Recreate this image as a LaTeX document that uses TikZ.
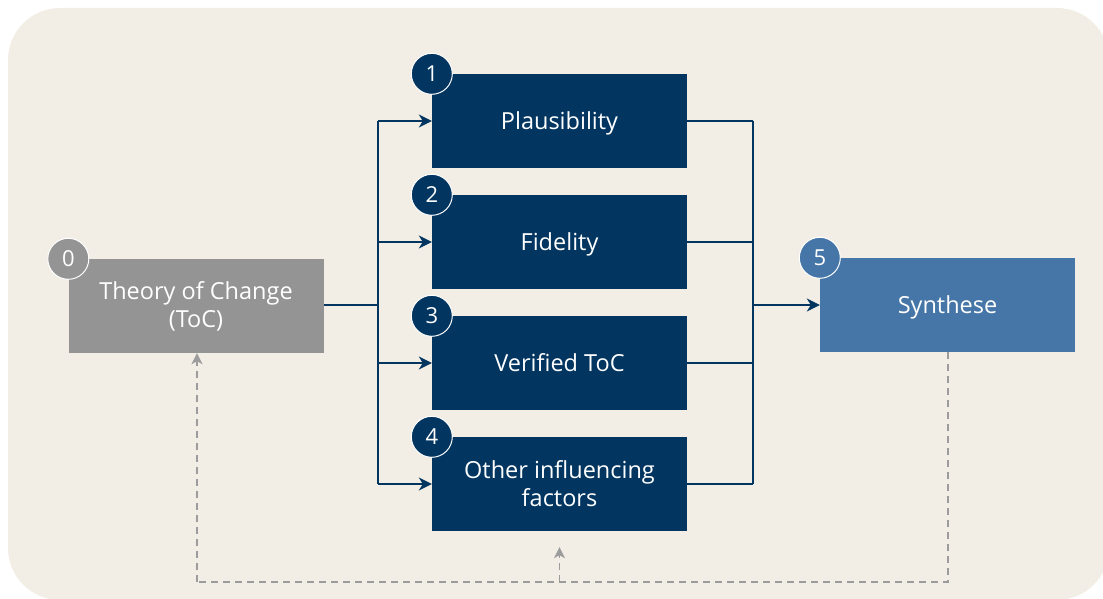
\documentclass[tikz,border=0pt]{standalone}
\usepackage{fontspec}
\setmainfont{Open Sans}
\usetikzlibrary{arrows.meta,positioning}
\definecolor{bgc}{HTML}{F2EEE6}
\definecolor{navy}{HTML}{023661}
\definecolor{grayb}{HTML}{949494}
\definecolor{blueb}{HTML}{4676A7}
\definecolor{dashc}{HTML}{9C9C9C}
\begin{document}
\begin{tikzpicture}[x=1pt,y=-1pt,
  boxs/.style={minimum width=255pt,minimum height=94pt,inner sep=0pt,align=center,text=white,font=\fontsize{23.5}{28}\selectfont},
  oneline/.style={text height=19pt,text depth=2pt},
  numc/.style={circle,minimum size=41pt,inner sep=0pt,draw=white,line width=1pt,text=white,font=\fontsize{22}{26}\selectfont},
  conn/.style={draw=navy,line width=1.3pt},
  arr/.style={conn,-{Stealth[length=13pt,width=13pt,inset=4pt]}},
  dsh/.style={draw=dashc,line width=1.6pt,dash pattern=on 7pt off 5pt},
  darr/.style={dsh,-{Stealth[length=11pt,width=11pt,inset=3pt]}}]
\useasboundingbox (0,0) rectangle (1103,599);
\fill[bgc,rounded corners=52pt] (8,8) rectangle (1109,600);
% boxes
\node[boxs,fill=grayb] (toc) at (196,306) {Theory of Change\\(ToC)};
\node[boxs,oneline,fill=navy] (b1) at (559.5,121) {Plausibility};
\node[boxs,oneline,fill=navy] (b2) at (559.5,242) {Fidelity};
\node[boxs,oneline,fill=navy] (b3) at (559.5,363) {Verified ToC};
\node[boxs,fill=navy] (b4) at (559.5,484) {Other influencing\\factors};
\node[boxs,oneline,fill=blueb] (b5) at (947.5,305) {Synthese};
% number circles
\node[numc,fill=grayb] (c0) at (toc.north west) {0};
\node[numc,fill=navy] (c1) at (b1.north west) {1};
\node[numc,fill=navy] (c2) at (b2.north west) {2};
\node[numc,fill=navy] (c3) at (b3.north west) {3};
\node[numc,fill=navy] (c4) at (b4.north west) {4};
\node[numc,fill=blueb] (c5) at (b5.north west) {5};
% junction coordinates
\coordinate (jl) at (378,305);
\coordinate (jr) at (753,305);
% left connectors
\draw[conn] (toc.east |- jl) -- (jl);
\draw[conn] (jl |- b1.west) -- (jl |- b4.west);
\draw[arr] (jl |- b1.west) -- (b1.west);
\draw[arr] (jl |- b2.west) -- (b2.west);
\draw[arr] (jl |- b3.west) -- (b3.west);
\draw[arr] (jl |- b4.west) -- (b4.west);
% right connectors
\draw[conn] (b1.east) -- (jr |- b1.east);
\draw[conn] (b2.east) -- (jr |- b2.east);
\draw[conn] (b3.east) -- (jr |- b3.east);
\draw[conn] (b4.east) -- (jr |- b4.east);
\draw[conn] (jr |- b1.east) -- (jr |- b4.east);
\draw[arr] (jr) -- (b5.west);
% dashed feedback
\coordinate (dr) at (948,582);
\coordinate (dl) at (197,582);
\coordinate (dm) at (559.5,582);
\draw[dsh] (b5.south -| dr) -- (dr) -- (dl);
\draw[darr] (dl) -- (toc.south -| dl);
\draw[darr] (dm) -- ([yshift=-16pt]b4.south);
\end{tikzpicture}
\end{document}
